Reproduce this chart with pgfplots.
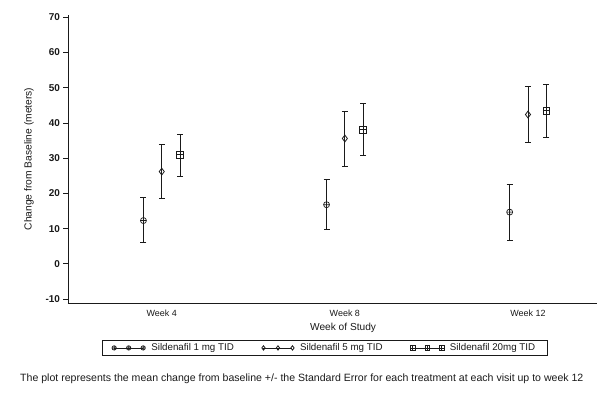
\documentclass[border=0pt]{standalone}
\usepackage{fontspec}
\setmainfont{Liberation Sans}
\usepackage{pgfplots}
\pgfplotsset{compat=1.18}
\usetikzlibrary{plotmarks}
\pgfdeclareplotmark{boxplus}{%
  \pgfpathrectangle{\pgfpoint{-\pgfplotmarksize}{-\pgfplotmarksize}}{\pgfpoint{2\pgfplotmarksize}{2\pgfplotmarksize}}%
  \pgfpathmoveto{\pgfpoint{-\pgfplotmarksize}{0pt}}\pgfpathlineto{\pgfpoint{\pgfplotmarksize}{0pt}}%
  \pgfpathmoveto{\pgfpoint{0pt}{-\pgfplotmarksize}}\pgfpathlineto{\pgfpoint{0pt}{\pgfplotmarksize}}%
  \pgfusepathqstroke}
\definecolor{ink}{HTML}{1A1A1A}
\begin{document}
\begin{tikzpicture}
\path[use as bounding box] (-68bp,-91bp) rectangle (542bp,303bp);
\begin{axis}[
  at={(0,0)}, anchor=south west,
  scale only axis, width=529bp, height=288bp,
  xmin=0.488, xmax=3.377, ymin=-11.1, ymax=70.65,
  axis x line*=bottom, axis y line*=left,
  axis line style={-, line width=0.8pt, ink},
  xtick={1,2,3}, xticklabels={Week 4, Week 8, Week 12},
  x tick style={draw=none},
  ytick={-10,0,...,70},
  y tick style={line width=0.8pt, ink},
  tick align=outside, major tick length=4.5bp,
  /pgf/number format/assume math mode=true,
  yticklabel style={font=\fontsize{10}{11}\selectfont\bfseries, text=ink},
  xticklabel style={font=\fontsize{9}{10}\selectfont, text=ink, yshift=1bp},
  xlabel={Week of Study},
  xlabel style={at={(axis description cs:0.52,-0.087)}, anchor=center, font=\fontsize{10.2}{11}\selectfont, text=ink},
  ylabel={Change from Baseline (meters)},
  ylabel style={at={(axis description cs:-0.0737,0.5)}, anchor=center, font=\fontsize{10.3}{11}\selectfont, text=ink},
  clip=false,
  legend columns=3,
  legend style={at={(axis description cs:0.485,-0.156)}, anchor=center,
    draw=ink, line width=0.8pt, inner xsep=10bp, inner ysep=1bp,
    font=\fontsize{9.8}{11}\selectfont, text=ink,
    /tikz/every odd column/.append style={column sep=4bp},
    /tikz/every even column/.append style={column sep=26bp}},
  legend image code/.code={%
    \draw[ink, line width=0.7pt] (0bp,0bp) -- (29bp,0bp);
    \draw[#1, mark size=2.2bp] plot coordinates {(0bp,0bp) (14.5bp,0bp) (29bp,0bp)};},
  error bars/y dir=both, error bars/y explicit,
  error bars/error bar style={line width=0.8pt, ink},
  error bars/error mark options={rotate=90, mark size=3bp, line width=0.8pt, ink},
]
\addplot[only marks, mark=oplus, mark size=3bp, mark options={line width=0.7pt, ink, fill=white}]
  table[x=x, y=y, y error plus=ep, y error minus=em] {
x y ep em
0.9 12.3 6.45 6.3
1.9 16.8 7.1 6.9
2.9 14.7 7.8 7.9
};
\addlegendentry{Sildenafil 1 mg TID}
\addplot[only marks, mark=diamond, mark size=3.4bp, mark options={line width=0.8pt, ink, fill=white}]
  table[x=x, y=y, y error plus=ep, y error minus=em] {
x y ep em
1.0 26.2 7.6 7.7
2.0 35.6 7.8 8.0
3.0 42.4 7.9 7.9
};
\addlegendentry{Sildenafil 5 mg TID}
\addplot[only marks, mark=boxplus, mark size=3.4bp, mark options={line width=0.7pt, ink}]
  table[x=x, y=y, y error plus=ep, y error minus=em] {
x y ep em
1.1 31.0 5.9 6.3
2.1 38.1 7.4 7.4
3.1 43.5 7.4 7.7
};
\addlegendentry{Sildenafil 20mg TID}
\end{axis}
\node[anchor=west, font=\fontsize{10.6}{12}\selectfont, text=ink, inner sep=0pt] at (-48bp,-76bp)
  {The plot represents the mean change from baseline +/- the Standard Error for each treatment at each visit up to week 12};
\end{tikzpicture}
\end{document}
